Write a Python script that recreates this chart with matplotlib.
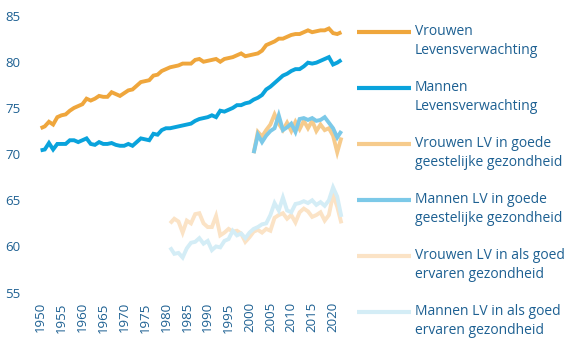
import numpy as np
import matplotlib as mpl
import matplotlib.pyplot as plt
from matplotlib.lines import Line2D

mpl.rcParams['font.family'] = ['Open Sans', 'DejaVu Sans']

# years
jaren = np.arange(1950, 2023)
jaren_ervaren = np.arange(1981, 2023)
jaren_geestelijk = np.arange(2001, 2023)

# life expectancy at birth
vrouwen_lv = [72.8, 73.0, 73.5, 73.2, 74.0, 74.2, 74.3, 74.7, 75.0, 75.2,
              75.4, 76.0, 75.8, 76.0, 76.3, 76.2, 76.2, 76.7, 76.5, 76.3,
              76.6, 76.9, 77.0, 77.4, 77.8, 77.9, 78.0, 78.5, 78.6, 79.0,
              79.2, 79.4, 79.5, 79.6, 79.8, 79.8, 79.8, 80.2, 80.3, 80.0,
              80.1, 80.2, 80.3, 80.0, 80.3, 80.4, 80.5, 80.7, 80.9, 80.6,
              80.7, 80.8, 80.9, 81.2, 81.8, 82.0, 82.2, 82.5, 82.5, 82.7,
              82.9, 83.0, 83.0, 83.2, 83.4, 83.2, 83.3, 83.4, 83.4, 83.6,
              83.1, 83.0, 83.2]
mannen_lv = [70.4, 70.5, 71.2, 70.5, 71.1, 71.1, 71.1, 71.5, 71.5, 71.3,
             71.5, 71.7, 71.1, 71.0, 71.3, 71.1, 71.1, 71.2, 71.0, 70.9,
             70.9, 71.1, 70.9, 71.3, 71.7, 71.6, 71.5, 72.2, 72.1, 72.6,
             72.8, 72.8, 72.9, 73.0, 73.1, 73.2, 73.3, 73.6, 73.8, 73.9,
             74.0, 74.2, 74.0, 74.7, 74.6, 74.8, 75.0, 75.3, 75.3, 75.5,
             75.6, 75.9, 76.1, 76.4, 77.0, 77.3, 77.7, 78.1, 78.5, 78.7,
             79.0, 79.2, 79.2, 79.5, 79.9, 79.8, 79.9, 80.1, 80.3, 80.5,
             79.7, 79.9, 80.2]

# life expectancy in good mental health
vrouwen_geestelijk = [70.1, 72.4, 71.9, 72.6, 73.2, 74.3, 73.3, 72.6, 73.4, 72.5,
                      73.5, 72.7, 73.6, 72.8, 73.6, 72.5, 73.2, 72.6, 72.8, 72.0,
                      70.2, 71.8]
mannen_geestelijk = [70.1, 72.1, 71.3, 72.0, 72.5, 72.8, 74.2, 72.6, 72.9, 73.3,
                     72.4, 73.8, 73.9, 73.7, 73.9, 73.6, 73.7, 74.0, 73.4, 72.8,
                     71.8, 72.5]

# life expectancy in self-rated good health
vrouwen_ervaren = [62.5, 63.0, 62.7, 61.5, 62.8, 62.5, 63.5, 63.6, 62.5, 62.1,
                   62.1, 63.3, 61.2, 61.5, 61.9, 61.6, 61.7, 61.4, 60.5, 61.0,
                   61.6, 61.8, 61.5, 61.9, 61.7, 63.1, 63.4, 63.6, 63.0, 63.4,
                   62.6, 63.7, 64.1, 63.8, 63.2, 63.4, 63.7, 62.8, 63.4, 65.6,
                   64.3, 62.5]
mannen_ervaren = [59.9, 59.2, 59.3, 58.8, 59.8, 60.4, 60.5, 60.9, 60.3, 60.6,
                  59.6, 60.0, 59.9, 60.6, 60.8, 61.7, 61.2, 61.4, 60.9, 61.5,
                  61.9, 62.1, 62.4, 62.5, 63.4, 64.7, 63.9, 65.3, 63.9, 63.7,
                  64.6, 64.7, 64.9, 64.7, 65.0, 64.5, 64.8, 64.4, 65.0, 66.4,
                  65.4, 63.2]

series = [
    (jaren, vrouwen_lv, '#EFA63C', 'Vrouwen\nLevensverwachting'),
    (jaren, mannen_lv, '#0AA3DC', 'Mannen\nLevensverwachting'),
    (jaren_geestelijk, vrouwen_geestelijk, '#F6CB8C', 'Vrouwen LV in goede\ngeestelijke gezondheid'),
    (jaren_geestelijk, mannen_geestelijk, '#7CC9E8', 'Mannen LV in goede\ngeestelijke gezondheid'),
    (jaren_ervaren, vrouwen_ervaren, '#FBE3C6', 'Vrouwen LV in als goed\nervaren gezondheid'),
    (jaren_ervaren, mannen_ervaren, '#D4EDF6', 'Mannen LV in als goed\nervaren gezondheid'),
]

tekstkleur = '#1D6092'

fig = plt.figure(figsize=(5.68, 3.38), dpi=100)
ax = fig.add_axes([36 / 568, 41.4 / 338, 310 / 568, 285 / 338])

# light series first so the main lines sit on top
for i in [4, 5, 2, 3, 0, 1]:
    x, y, kleur, label = series[i]
    ax.plot(x, y, color=kleur, lw=2.8, solid_capstyle='butt', solid_joinstyle='miter')

ax.set_xlim(1948.9, 2023.1)
ax.set_ylim(54.57, 85.43)
ax.set_xticks(np.arange(1950, 2021, 5))
ax.set_yticks(np.arange(55, 86, 5))
ax.tick_params(axis='x', labelrotation=90, length=0, pad=4, labelsize=9.5, colors=tekstkleur)
ax.tick_params(axis='y', length=0, pad=11, labelsize=9.5, colors=tekstkleur)
for spine in ax.spines.values():
    spine.set_visible(False)

# legend drawn by hand: line next to the first text row
for n, (x, y, kleur, label) in enumerate(series):
    ymid = 1 - (32 + n * 56) / 338
    fig.add_artist(Line2D([357 / 568, 411 / 568], [ymid, ymid], color=kleur, lw=3,
                          solid_capstyle='butt', transform=fig.transFigure))
    fig.text(415 / 568, ymid + 8 / 338, label, color=tekstkleur, fontsize=10,
             va='top', ha='left', linespacing=1.35)

fig.savefig('out.png', dpi=100)
